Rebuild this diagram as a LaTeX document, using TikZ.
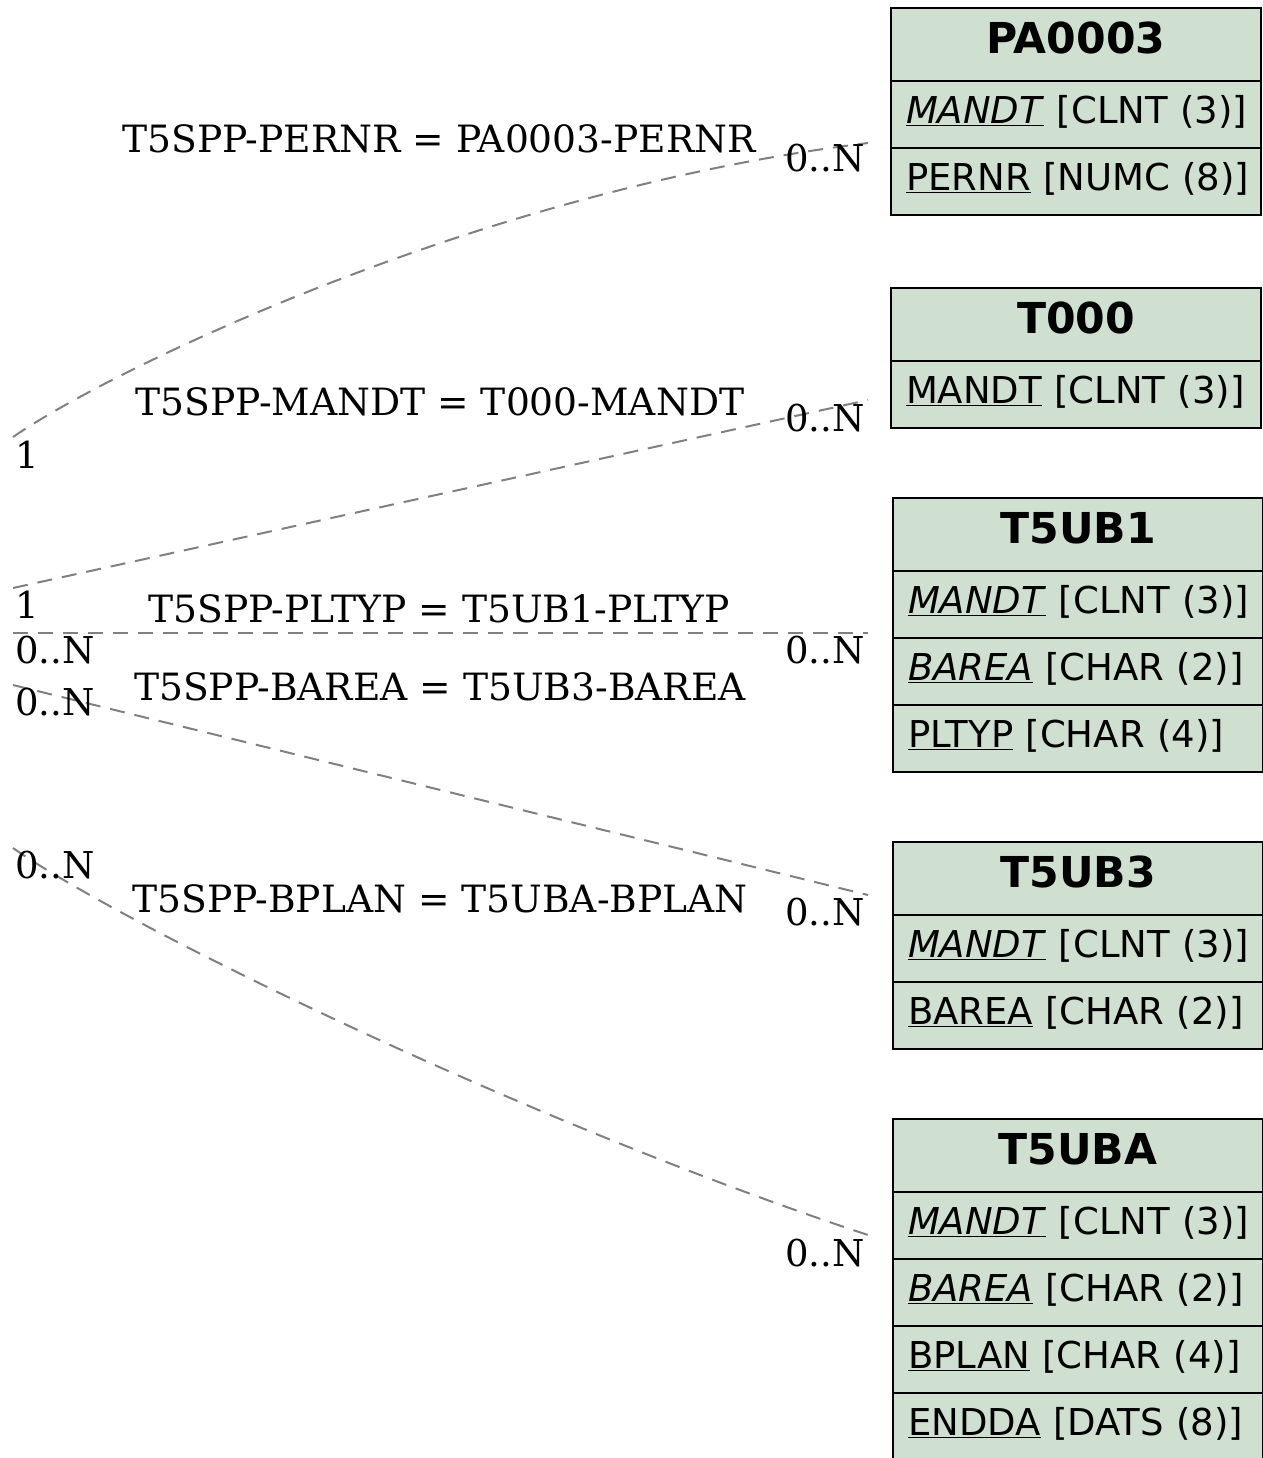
\documentclass[tikz,border=0pt]{standalone}
\usepackage{fontspec}
\setmainfont{DejaVu Serif}
\setsansfont{DejaVu Sans}
\usetikzlibrary{positioning}

\definecolor{tblfill}{HTML}{D0E0D0}
\newcommand{\fld}[2]{\mbox{#1 [#2]}}

\tikzset{
  tblhead/.style={rectangle, draw=black, line width=1pt, fill=tblfill, outer sep=0pt,
    minimum width=185pt, minimum height=36.5pt, text width=170pt, align=center,
    inner sep=0pt, inner xsep=7.5pt, text height=22.5pt, text depth=14pt,
    font=\sffamily\bfseries\fontsize{21.3}{25}\selectfont},
  tblrow/.style={rectangle, draw=black, line width=1pt, fill=tblfill, outer sep=0pt,
    minimum width=185pt, minimum height=33.5pt, text width=170pt, align=left,
    inner sep=0pt, inner xsep=7.5pt, text height=21pt, text depth=12.5pt,
    font=\sffamily\fontsize{18.5}{22}\selectfont},
  rel/.style={draw=gray, line width=1pt, dash pattern=on 7.5pt off 5pt},
  card/.style={inner sep=0pt, font=\fontsize{18.5}{22}\selectfont},
  rellabel/.style={inner sep=0pt, anchor=base, font=\fontsize{18.8}{22}\selectfont}
}

\begin{document}
\begin{tikzpicture}[x=0.5pt,y=-0.5pt]
  \useasboundingbox (0,0) rectangle (1263,1458);

  % tables
  \node[tblhead, anchor=north west] (pa0003) at (891,8) {PA0003};
  \node[tblrow, below=0pt of pa0003] (pa0003-mandt) {\fld{\underline{\textit{MANDT}}}{CLNT (3)}};
  \node[tblrow, below=0pt of pa0003-mandt] (pa0003-pernr) {\fld{\underline{PERNR}}{NUMC (8)}};

  \node[tblhead, anchor=north west] (t000) at (891,288) {T000};
  \node[tblrow, below=0pt of t000] (t000-mandt) {\fld{\underline{MANDT}}{CLNT (3)}};

  \node[tblhead, anchor=north west] (t5ub1) at (893,498) {T5UB1};
  \node[tblrow, below=0pt of t5ub1] (t5ub1-mandt) {\fld{\underline{\textit{MANDT}}}{CLNT (3)}};
  \node[tblrow, below=0pt of t5ub1-mandt] (t5ub1-barea) {\fld{\underline{\textit{BAREA}}}{CHAR (2)}};
  \node[tblrow, below=0pt of t5ub1-barea] (t5ub1-pltyp) {\fld{\underline{PLTYP}}{CHAR (4)}};

  \node[tblhead, anchor=north west] (t5ub3) at (893,842) {T5UB3};
  \node[tblrow, below=0pt of t5ub3] (t5ub3-mandt) {\fld{\underline{\textit{MANDT}}}{CLNT (3)}};
  \node[tblrow, below=0pt of t5ub3-mandt] (t5ub3-barea) {\fld{\underline{BAREA}}{CHAR (2)}};

  \node[tblhead, anchor=north west] (t5uba) at (893,1119) {T5UBA};
  \node[tblrow, below=0pt of t5uba] (t5uba-mandt) {\fld{\underline{\textit{MANDT}}}{CLNT (3)}};
  \node[tblrow, below=0pt of t5uba-mandt] (t5uba-barea) {\fld{\underline{\textit{BAREA}}}{CHAR (2)}};
  \node[tblrow, below=0pt of t5uba-barea] (t5uba-bplan) {\fld{\underline{BPLAN}}{CHAR (4)}};
  \node[tblrow, below=0pt of t5uba-bplan] (t5uba-endda) {\fld{\underline{ENDDA}}{DATS (8)}};

  % connector ends
  \coordinate (pernr-src) at (13,437);
  \coordinate (pernr-dst) at (868,143);
  \coordinate (mandt-src) at (13,588);
  \coordinate (mandt-dst) at (868,400);
  \coordinate (pltyp-src) at (13,633);
  \coordinate (pltyp-dst) at (868,633);
  \coordinate (barea-src) at (13,685);
  \coordinate (barea-dst) at (868,895);
  \coordinate (bplan-src) at (13,848);
  \coordinate (bplan-dst) at (868,1235);

  % relations
  \draw[rel] (pernr-src) .. controls (110,370) and (480,190) .. (pernr-dst);
  \draw[rel] (mandt-src) -- (mandt-dst);
  \draw[rel] (pltyp-src) -- (pltyp-dst);
  \draw[rel] (barea-src) -- (barea-dst);
  \draw[rel] (bplan-src) .. controls (120,923) and (520,1120) .. (bplan-dst);

  \node[rellabel] (pernr-lbl) at (439,152) {T5SPP-PERNR = PA0003-PERNR};
  \node[rellabel] (mandt-lbl) at (440,415) {T5SPP-MANDT = T000-MANDT};
  \node[rellabel] (pltyp-lbl) at (439,622) {T5SPP-PLTYP = T5UB1-PLTYP};
  \node[rellabel] (barea-lbl) at (440,700) {T5SPP-BAREA = T5UB3-BAREA};
  \node[rellabel] (bplan-lbl) at (440,912) {T5SPP-BPLAN = T5UBA-BPLAN};

  % cardinalities
  \node[card, anchor=base west] (pernr-one) at (15,468) {1};
  \node[card, anchor=base east] (pernr-many) at (865,171) {0..N};
  \node[card, anchor=base west] (mandt-one) at (15,618) {1};
  \node[card, anchor=base east] (mandt-many) at (865,431) {0..N};
  \node[card, anchor=base west] (pltyp-many1) at (15,663) {0..N};
  \node[card, anchor=base east] (pltyp-many2) at (865,663) {0..N};
  \node[card, anchor=base west] (barea-many1) at (15,715) {0..N};
  \node[card, anchor=base east] (barea-many2) at (865,925) {0..N};
  \node[card, anchor=base west] (bplan-many1) at (15,878) {0..N};
  \node[card, anchor=base east] (bplan-many2) at (865,1266) {0..N};
\end{tikzpicture}
\end{document}
